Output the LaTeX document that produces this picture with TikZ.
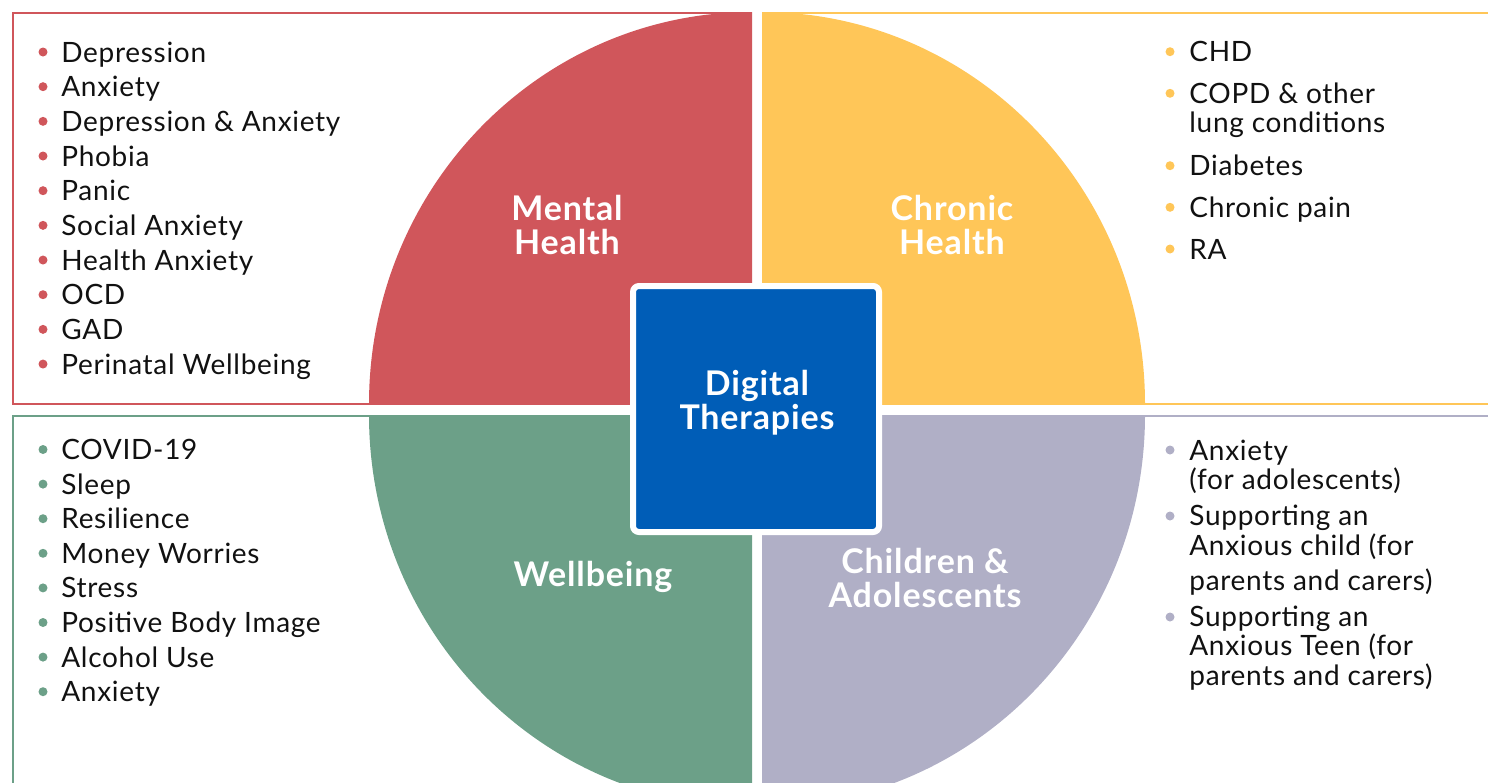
\documentclass[tikz,border=0pt]{standalone}
\usepackage{fontspec}
\setmainfont{Lato}[LetterSpace=2.5]
\usepackage{xcolor}
\usetikzlibrary{positioning}

\definecolor{mhred}{HTML}{D0565B}
\definecolor{chyellow}{HTML}{FFC658}
\definecolor{wbgreen}{HTML}{6CA088}
\definecolor{calilac}{HTML}{B0AFC6}
\definecolor{dtblue}{HTML}{005DB7}
\definecolor{txt}{HTML}{111111}

\begin{document}
\begin{tikzpicture}[x=0.5pt,y=-0.5pt]
	\tikzstyle{item}=[anchor=base west, inner sep=0pt, text=txt, font=\fontsize{14}{14.6}\selectfont, align=left]
	\tikzstyle{head}=[text=white, inner sep=0pt, align=center, font=\fontsize{17}{17.2}\selectfont\bfseries]
	\tikzstyle{frame}=[line width=1.2pt]
	\useasboundingbox (0,0) rectangle (1488,782);
	\begin{scope}
	\clip (0,0) rectangle (1488,782);
	% frames
	\draw[frame, mhred] (13,13) rectangle (750,404);
	\draw[frame, chyellow] (764,13) rectangle (1500,404);
	\draw[frame, wbgreen] (13,416) rectangle (750,800);
	\draw[frame, calilac] (764,416) rectangle (1500,800);
	% quarters
	\fill[mhred] (752,404) -- (369,404) arc[start angle=180, end angle=270, x radius=383, y radius=392] -- cycle;
	\fill[chyellow] (762,404) -- (762,12) arc[start angle=270, end angle=360, x radius=383, y radius=392] -- cycle;
	\fill[wbgreen] (752,415) -- (369,415) arc[start angle=180, end angle=90, x radius=383, y radius=392] -- cycle;
	\fill[calilac] (762,415) -- (1145,415) arc[start angle=0, end angle=90, x radius=383, y radius=392] -- cycle;
	\end{scope}

	\node[head] (mh) at (567,225) {Mental\\Health};
	\node[head] (ch) at (952,225) {Chronic\\Health};
	\node[head] (wb) at (593,577) {Wellbeing};
	\node[head] (ca) at (925,578) {Children \&\\Adolescents};

	\node[draw=white, line width=3pt, fill=dtblue, minimum size=123pt, rounded corners=3pt] (dtbox) at (756,409) {};
	\node[head] (dt) at (757,403) {Digital\\Therapies};

	% mental health list
	\foreach \t [count=\i] in {Depression, Anxiety, Depression \& Anxiety, Phobia, Panic, Social Anxiety, Health Anxiety, OCD, GAD, Perinatal Wellbeing}{
		\fill[mhred] (43,{52+34.67*(\i-1)}) circle[radius=4.5];
		\node[item] (mh\i) at (61,{62+34.67*(\i-1)}) {\t};
	}
	% wellbeing list
	\foreach \t [count=\i] in {COVID-19, Sleep, Resilience, Money Worries, Stress, Positive Body Image, Alcohol Use, Anxiety}{
		\fill[wbgreen] (43,{449.5+34.6*(\i-1)}) circle[radius=4.5];
		\node[item] (wb\i) at (61,{459.5+34.6*(\i-1)}) {\t};
	}
	% chronic health list (y = last baseline / bullet)
	\foreach \t/\y/\b [count=\i] in {CHD/61.7/51.7, COPD \& other\\lung conditions/132.3/93.3, Diabetes/175.7/165.7, Chronic pain/217.3/207.3, RA/259/249}{
		\fill[chyellow] (1170,\b) circle[radius=4.5];
		\node[item] (ch\i) at (1189,\y) {\t};
	}
	% children list
	\node[item] (ca1) at (1189,489.3) {Anxiety\\(for adolescents)};
	\node[item] (ca2) at (1189,590.7) {Supporting an\\Anxious child (for\\[3.2pt]parents and carers)};
	\node[item] (ca3) at (1189,685) {Supporting an\\Anxious Teen (for\\parents and carers)};
	\foreach \y in {450,516,617}
		\fill[calilac] (1170,\y) circle[radius=4.5];
\end{tikzpicture}
\end{document}
